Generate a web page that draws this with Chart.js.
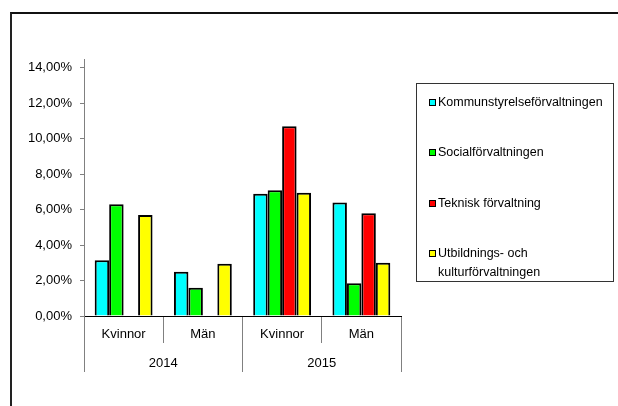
<!DOCTYPE html>
<html>
<head>
<meta charset="utf-8">
<script src="https://cdn.jsdelivr.net/npm/chart.js@4"></script>
<style>
  html, body { margin: 0; padding: 0; background: #fff; overflow: hidden; }
  #wrap { position: relative; width: 618px; height: 406px; }
  #frame {
    position: absolute; left: 10px; top: 12px; width: 620px; height: 400px;
    border-top: 2px solid #111; border-left: 2px solid #222;
  }
  #legend {
    position: absolute; left: 416px; top: 83px; width: 198px; height: 199px;
    border: 1px solid #333; box-sizing: border-box;
    font-family: 'Liberation Sans', Arial, sans-serif; font-size: 12.5px; color: #000;
  }
  .item { position: absolute; left: 12px; right: 2px; line-height: 19px; }
  .box {
    position: absolute; left: 0; top: 6px; width: 5px; height: 5px;
    border: 1.5px solid #000;
  }
  .label { margin-left: 9px; }
</style>
</head>
<body>
<div id="wrap">
  <canvas id="chart" width="618" height="406"></canvas>
  <div id="frame"></div>
  <div id="legend"></div>
</div>
<script>
// Data (percent)
const categories = ['Kvinnor', 'Män', 'Kvinnor', 'Män'];
const years = ['2014', '2015'];
const seriesNames = ['Kommunstyrelseförvaltningen', 'Socialförvaltningen', 'Teknisk förvaltning', 'Utbildnings- och kulturförvaltningen'];
const kommunstyrelse = [3.15, 2.5, 6.9, 6.4];
const social = [6.3, 1.6, 7.1, 1.85];
const teknisk = [0, 0, 10.7, 5.8];
const utbildning = [5.7, 2.95, 6.95, 3.0];
const yTicks = [0, 2, 4, 6, 8, 10, 12, 14];

const colors = ['#00ffff', '#00ff00', '#ff0000', '#ffff00'];
const seriesValues = [kommunstyrelse, social, teknisk, utbildning];

const font = { family: "'Liberation Sans', Arial, sans-serif", size: 13 };

const ctx = document.getElementById('chart').getContext('2d');

const chart = new Chart(ctx, {
    type: 'bar',
    data: {
        labels: categories,
        datasets: seriesNames.map((name, i) => ({
            label: name,
            data: seriesValues[i],
            backgroundColor: colors[i],
            borderColor: '#000',
            borderWidth: 2,
            categoryPercentage: 0.73,
            barPercentage: 1.0
        }))
    },
    options: {
        responsive: false,
        animation: false,
        layout: { padding: { top: 59, left: 10, right: 217, bottom: 34 } },
        plugins: {
            legend: { display: false },
            tooltip: { enabled: false }
        },
        scales: {
            x: {
                weight: 0,
                offset: true,
                grid: { offset: true, drawOnChartArea: false, tickLength: 27, color: '#808080' },
                border: { color: '#000', width: 1 },
                ticks: { color: '#000', font: font, padding: -16 },
                afterFit: (s) => { s.height = 27; }
            },
            x2: {
                type: 'category',
                position: 'bottom',
                weight: 1,
                labels: years,
                offset: true,
                grid: { offset: true, drawOnChartArea: false, tickLength: 29, color: '#808080' },
                border: { display: false },
                ticks: { color: '#000', font: font, padding: -16 },
                afterFit: (s) => { s.height = 29; }
            },
            y: {
                min: 0,
                max: 14.5,
                afterBuildTicks: (s) => { s.ticks = yTicks.map(v => ({ value: v })); },
                grid: { drawOnChartArea: false, tickLength: 4, color: '#808080' },
                border: { color: '#808080', width: 1 },
                ticks: {
                    color: '#000',
                    font: font,
                    padding: 8,
                    callback: (v) => v.toFixed(2).replace('.', ',') + '%'
                },
                afterFit: (s) => { s.width = 74; }
            }
        }
    }
});

// HTML legend built from the chart datasets
const legend = document.getElementById('legend');
chart.data.datasets.forEach((ds, i) => {
    const item = document.createElement('div');
    item.className = 'item';
    item.style.top = (9 + i * 50.3) + 'px';
    const box = document.createElement('span');
    box.className = 'box';
    box.style.background = ds.backgroundColor;
    const label = document.createElement('div');
    label.className = 'label';
    label.textContent = ds.label;
    item.appendChild(box);
    item.appendChild(label);
    legend.appendChild(item);
});
</script>
</body>
</html>
